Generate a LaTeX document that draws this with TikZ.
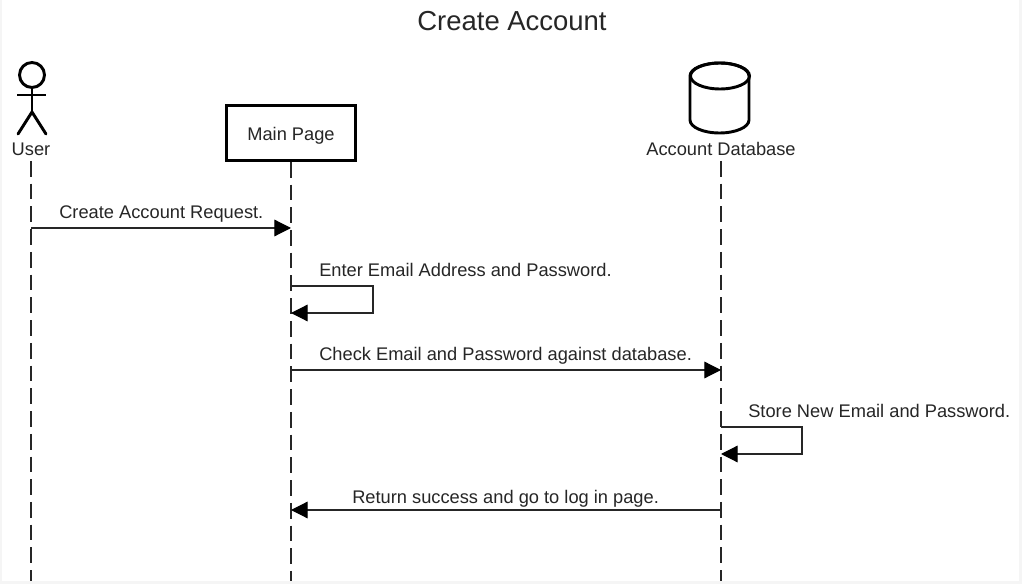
\documentclass[tikz,border=0pt]{standalone}
\usepackage{fontspec}
\setmainfont{Liberation Sans}
\usetikzlibrary{arrows.meta,positioning,shapes.geometric}
\tikzset{
  lifeline/.style={draw=black!85,line width=0.9pt,dash pattern=on 11.8pt off 5.25pt},
  message/.style={draw=black!85,line width=0.9pt,-{Triangle[length=12.5pt,width=12.5pt,black]},shorten >=0pt},
  msgtext/.style={inner sep=0pt,anchor=base west,font=\fontsize{13.7}{16}\selectfont,text=black!85},
  party/.style={inner sep=0pt,font=\fontsize{13.7}{16}\selectfont,text=black!85},
  thick line/.style={draw=black,line width=2.2pt}
}
\begin{document}
\begin{tikzpicture}[x=0.75pt,y=-0.75pt]
  \useasboundingbox (0,0) rectangle (1022,584);
  \fill[black!4] (0,0) rectangle (1022,584);
  \fill[white] (2,0) rectangle (1019,581);
  % title
  \node[inner sep=0pt,font=\fontsize{20.6}{24}\selectfont,text=black!85] (title) at (512,21) {Create Account};
  % parties
  \node[party] (user) at (31,149) {User};
  \node[thick line,rectangle,minimum width=97pt,minimum height=41pt,inner sep=0pt,
    text height=12pt,text depth=0pt,party] (main) at (291,133) {Main Page};
  \node[party] (db) at (721,149) {Account Database};
  % actor
  \draw[thick line] (32,75) circle (12.5);
  \draw[thick line] (32,87) -- (32,112) (17,95) -- (46,95);
  \draw[thick line,line cap=round] (18,134) -- (32,112) -- (46,134);
  % cylinder
  \draw[thick line] (690,76) arc[start angle=180,end angle=360,x radius=29.5,y radius=13]
    -- (749,120) arc[start angle=0,end angle=-180,x radius=29.5,y radius=-13] -- cycle;
  \draw[thick line] (720,76) ellipse (29.5 and 13);
  % life lines
  \coordinate (userend) at (31,581);
  \coordinate (mainend) at (291,581);
  \coordinate (dbend) at (721,581);
  \draw[lifeline] (31,161) -- (userend);
  \draw[lifeline] (main.south -| mainend) -- (mainend);
  \draw[lifeline] (721,161) -- (dbend);
  % messages
  \foreach \name/\x/\y in {ua/31/228,mb/291/228,mc/291/286,md/373/286,me/373/313,mf/291/313,
      mg/291/370,dh/721/370,di/721/427,dj/802/427,dk/802/454,dl/721/454,dm/721/510,mn/291/510} {
    \coordinate (\name) at (\x,\y);
  }
  \draw[message] (ua) -- (mb);
  \draw[message] (mc) -- (md) -- (me) -- (mf);
  \draw[message] (mg) -- (dh);
  \draw[message] (di) -- (dj) -- (dk) -- (dl);
  \draw[message] (dm) -- (mn);
  % labels
  \node[msgtext] (t1) at (59,219) {Create Account Request.};
  \node[msgtext] (t2) at (319,277) {Enter Email Address and Password.};
  \node[msgtext] (t3) at (319,361) {Check Email and Password against database.};
  \node[msgtext] (t4) at (748,418) {Store New Email and Password.};
  \node[msgtext] (t5) at (352,504) {Return success and go to log in page.};
\end{tikzpicture}
\end{document}
